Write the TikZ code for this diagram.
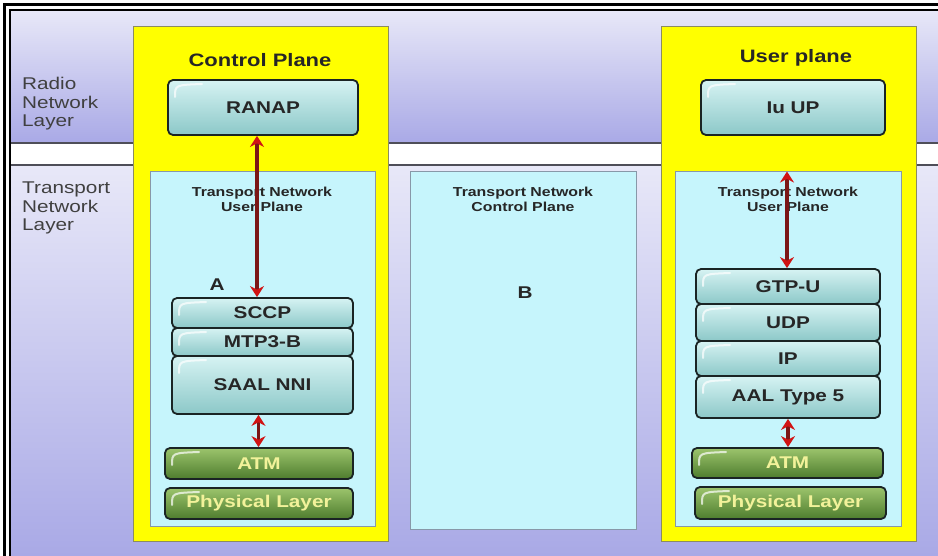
\documentclass[tikz,border=0pt]{standalone}
\usepackage{fontspec}
\setmainfont[FakeStretch=1.22]{Liberation Sans}
\usetikzlibrary{arrows.meta}
\definecolor{bandtop}{HTML}{E8E8F8}
\definecolor{bandbot}{HTML}{A9A9E6}
\definecolor{sepline}{HTML}{4E4E58}
\definecolor{yellowcol}{HTML}{FFFF00}
\definecolor{yellowedge}{HTML}{8C8C60}
\definecolor{tnblue}{HTML}{C6F5FC}
\definecolor{tnline}{HTML}{8898A8}
\definecolor{tealtop}{HTML}{D6F3F3}
\definecolor{tealbot}{HTML}{8CC8C8}
\definecolor{greentop}{HTML}{9CC46C}
\definecolor{greenbot}{HTML}{4E7D2E}
\definecolor{greentext}{HTML}{F2F29A}
\definecolor{boxline}{HTML}{1A2424}
\definecolor{arrowdark}{HTML}{7B1616}
\definecolor{arrowred}{HTML}{D01414}
\tikzset{
	gloss/.style={path picture={\draw[white, opacity=0.7, line width=2pt, line cap=round] ([shift={(7pt,-17pt)}]path picture bounding box.north west) .. controls ([shift={(7pt,-5pt)}]path picture bounding box.north west) .. ([shift={(34pt,-4pt)}]path picture bounding box.north west);}},
	proto/.style={draw=boxline, line width=1.8pt, rounded corners=5pt, top color=tealtop, bottom color=tealbot, text=black!85, font=\bfseries\fontsize{17}{17}\selectfont, inner sep=0pt, gloss},
	phys/.style={proto, top color=greentop, bottom color=greenbot, text=greentext},
	plane/.style={fill=tnblue, draw=tnline, line width=1pt, inner sep=0pt},
	planetitle/.style={font=\bfseries\fontsize{18}{18}\selectfont, text=black!85},
	subtitle/.style={align=center, font=\bfseries\fontsize{13}{15}\selectfont, text=black!85},
	layertext/.style={align=left, anchor=north west, font=\fontsize{17}{18.5}\selectfont, text=black!75, inner sep=0pt},
	link/.style={draw=arrowdark, line width=3.4pt, {Stealth[color=arrowred,length=11pt,width=14pt]}-{Stealth[color=arrowred,length=11pt,width=14pt]}},
}
\begin{document}
\begin{tikzpicture}[x=1pt,y=-1pt]
	\useasboundingbox (0,0) rectangle (938,556);
	\fill[white] (0,0) rectangle (938,556);
	\shade[top color=bandtop, bottom color=bandbot] (10,10) rectangle (938,143);
	\shade[top color=bandtop, bottom color=bandbot] (10,165) rectangle (938,556);
	\draw[sepline, line width=1.5pt] (10,143) -- (938,143) (10,165) -- (938,165);
	\draw[line width=3pt] (4,556) -- (4,5) -- (938,5);
	\draw[line width=2pt] (10,556) -- (10,10) -- (938,10);

	\node[layertext] (rnl) at (22,77) {Radio\\Network\\Layer};
	\node[layertext] (tnl) at (22,182) {Transport\\Network\\Layer};

	\filldraw[fill=yellowcol, draw=yellowedge, line width=1pt] (133,27) rectangle (388,541);
	\filldraw[fill=yellowcol, draw=yellowedge, line width=1pt] (661,27) rectangle (916,541);

	\node[planetitle] (cp) at (260,60) {Control Plane};
	\node[planetitle] (up) at (796,58) {User plane};
	\node[proto, minimum width=190pt, minimum height=55pt] (ranap) at (263,107.5) {RANAP};
	\node[proto, minimum width=184pt, minimum height=55pt] (iuup) at (793,107.5) {Iu UP};

	\node[plane, minimum width=225pt, minimum height=354pt] (tnupL) at (262.5,349) {};
	\node[plane, minimum width=226pt, minimum height=357pt] (tncp) at (523,350.5) {};
	\node[plane, minimum width=226pt, minimum height=354pt] (tnupR) at (788,349) {};
	\node[subtitle] (tnupLtxt) at (262,199) {Transport Network\\User Plane};
	\node[subtitle] (tncptxt) at (523,199) {Transport Network\\Control Plane};
	\node[subtitle] (tnupRtxt) at (788,199) {Transport Network\\User Plane};
	\node[planetitle, font=\bfseries\fontsize{17}{17}\selectfont] (a) at (217,285) {A};
	\node[planetitle, font=\bfseries\fontsize{17}{17}\selectfont] (b) at (525,293) {B};

	\node[proto, minimum width=181pt, minimum height=30pt] (sccp) at (262.5,313) {SCCP};
	\node[proto, minimum width=181pt, minimum height=28pt] (mtp) at (262.5,342) {MTP3-B};
	\node[proto, minimum width=181pt, minimum height=58pt] (saal) at (262.5,385) {SAAL NNI};
	\node[phys, minimum width=188pt, minimum height=31pt] (atmL) at (259,463.5) {ATM};
	\node[phys, minimum width=188pt, minimum height=31pt] (physL) at (259,503.5) {Physical Layer};

	\node[proto, minimum width=184pt, minimum height=35pt] (gtpu) at (788,286.5) {GTP-U};
	\node[proto, minimum width=184pt, minimum height=37pt] (udp) at (788,322.5) {UDP};
	\node[proto, minimum width=184pt, minimum height=35pt] (ip) at (788,358.5) {IP};
	\node[proto, minimum width=184pt, minimum height=42pt] (aal) at (788,397) {AAL Type 5};
	\node[phys, minimum width=191pt, minimum height=30pt] (atmR) at (787.5,463) {ATM};
	\node[phys, minimum width=191pt, minimum height=32pt] (physR) at (790.5,503) {Physical Layer};

	\draw[link] ([xshift=-6pt]ranap.south) -- ([xshift=-6pt]ranap.south |- sccp.north);
	\draw[link] ([xshift=-4pt]saal.south) -- ([xshift=-4pt]saal.south |- atmL.north);
	\draw[link] ([xshift=-1pt]gtpu.north |- tnupR.north) -- ([xshift=-1pt]gtpu.north);
	\draw[link] (aal.south) -- (aal.south |- atmR.north);
\end{tikzpicture}
\end{document}
